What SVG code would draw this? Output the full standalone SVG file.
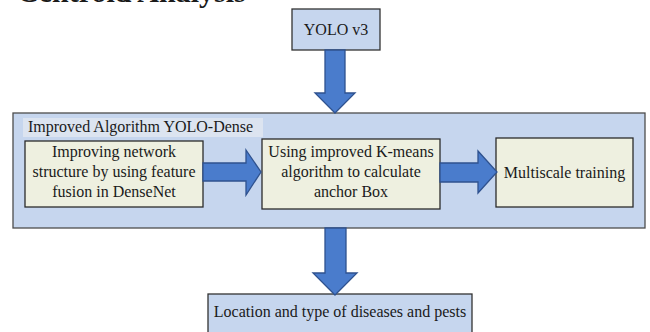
<svg xmlns="http://www.w3.org/2000/svg" width="650" height="332" viewBox="0 0 650 332">
<style>
text{font-family:"Liberation Serif","Times New Roman",serif;font-size:16px;fill:#1a1a1a}
.c{text-anchor:middle}
.blue{fill:#c6d6ee;stroke:#333;stroke-width:1.3}
.inner{fill:#eef0e0;stroke:#2b2b2b;stroke-width:1.3}
.arrow{fill:#4a7ccc;stroke:#2f528f;stroke-width:1.3}
</style>
<rect width="650" height="332" fill="#fff"/>
<text x="17" y="2" style="font-size:30px;font-weight:bold">Centroid Analysis</text>
<g id="container">
<rect x="13" y="113" width="632" height="115" fill="#c6d6ee" stroke="#4d4d4d" stroke-width="1.3"/>
<rect x="23" y="118" width="240" height="19" fill="#dce4f0"/>
<text x="28" y="132">Improved Algorithm YOLO-Dense</text>
</g>
<g id="yolov3">
<rect class="blue" x="292" y="9" width="88" height="41"/>
<text class="c" x="336" y="35">YOLO v3</text>
</g>
<g id="box1">
<rect class="inner" x="25" y="141" width="178" height="66"/>
<text class="c" x="114" y="157">Improving network</text>
<text class="c" x="114" y="177">structure by using feature</text>
<text class="c" x="114" y="197">fusion in DenseNet</text>
</g>
<g id="box2">
<rect class="inner" x="262" y="139" width="178" height="70"/>
<text class="c" x="351" y="157">Using improved K-means</text>
<text class="c" x="351" y="177">algorithm to calculate</text>
<text class="c" x="351" y="197">anchor Box</text>
</g>
<g id="box3">
<rect class="inner" x="496" y="138" width="137" height="69"/>
<text class="c" x="564.5" y="178">Multiscale training</text>
</g>
<g id="output">
<rect class="blue" x="208" y="294" width="264" height="50"/>
<text class="c" x="340" y="317">Location and type of diseases and pests</text>
</g>
<g id="connectors">
<polygon class="arrow" points="325,50 345,50 345,93 355,93 335,113 315,93 325,93"/>
<polygon class="arrow" points="203,163 246,163 246,150 261,172 246,195 246,181 203,181"/>
<polygon class="arrow" points="440,163 478,163 478,151 497,172 478,193 478,182 440,182"/>
<polygon class="arrow" points="325,228 346,228 346,273 357,273 335,295 313,273 325,273"/>
</g>
</svg>
